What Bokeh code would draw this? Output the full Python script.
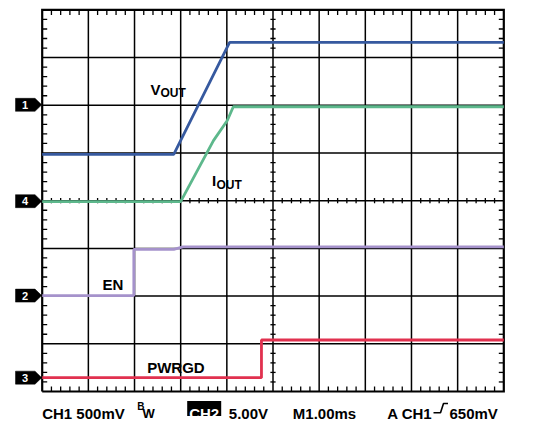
from bokeh.plotting import figure
from bokeh.models import Range1d
from bokeh.core.properties import value
from bokeh.embed import file_html
from bokeh.resources import INLINE

# ---- data: time in ms (M1.00ms -> 1 ms per division), amplitude in screen divisions ----
vout_t = [0.0, 2.85, 4.06, 10.0]
vout_v = [4.97, 4.97, 7.32, 7.32]

iout_t = [0.0, 3.0, 3.71, 4.01, 4.14, 10.0]
iout_v = [3.98, 3.98, 5.26, 5.68, 5.97, 5.97]

en_t = [0.0, 1.985, 1.985, 2.85, 3.05, 10.0]
en_v = [2.01, 2.01, 2.98, 2.98, 3.03, 3.03]

pwrgd_t = [0.0, 4.75, 4.75, 10.0]
pwrgd_v = [0.29, 0.29, 1.08, 1.08]

ch_markers = ["1", "4", "2", "3"]
ch_levels = [6.01, 3.99, 2.01, 0.29]

n_xdiv = 10
n_ydiv = 8

status = ["CH1 500mV", "5.00V", "M1.00ms", "A CH1", "650mV"]

# ---- colours ----
C_VOUT = "#36599f"
C_IOUT = "#5db88c"
C_EN = "#a592cb"
C_PWRGD = "#e1314f"

FONT = value("Liberation Sans")

# pixel helpers (image coordinates -> division units)
XS = 46.16
YS = 47.7
def dx(px):
    return (px - 41.7) / XS
def dy(py):
    return (391.0 - py) / YS

W, H = 543, 421
p = figure(width=W, height=H, output_backend="svg", toolbar_location=None,
           x_range=Range1d(dx(0), dx(W)), y_range=Range1d(dy(H), dy(0)),
           x_axis_type=None, y_axis_type=None, min_border=0,
           outline_line_color=None, background_fill_color="white",
           border_fill_color="white")
p.grid.visible = False

# ---- graticule ----
inner_x = list(range(1, n_xdiv))
inner_y = list(range(1, n_ydiv))
p.segment(x0=inner_x, y0=[0] * len(inner_x), x1=inner_x, y1=[n_ydiv] * len(inner_x),
          line_color="black", line_width=1.5)
p.segment(x0=[0] * len(inner_y), y0=inner_y, x1=[n_xdiv] * len(inner_y), y1=inner_y,
          line_color="black", line_width=1.5)

# minor ticks
tx = [i * 0.2 for i in range(1, n_xdiv * 5) if i % 5]
ty = [i * 0.2 for i in range(1, n_ydiv * 5) if i % 5]
L = 5.0
h = 2.6
segs_x0, segs_y0, segs_x1, segs_y1 = [], [], [], []
for x in tx:
    segs_x0 += [x, x, x]
    segs_y0 += [n_ydiv, 0, n_ydiv / 2 - h / YS]
    segs_x1 += [x, x, x]
    segs_y1 += [n_ydiv - L / YS, L / YS, n_ydiv / 2 + h / YS]
for y in ty:
    segs_x0 += [0, n_xdiv, n_xdiv / 2 - h / XS]
    segs_y0 += [y, y, y]
    segs_x1 += [L / XS, n_xdiv - L / XS, n_xdiv / 2 + h / XS]
    segs_y1 += [y, y, y]
p.segment(x0=segs_x0, y0=segs_y0, x1=segs_x1, y1=segs_y1, line_color="black", line_width=1.3)

# border
p.line(x=[0, n_xdiv, n_xdiv, 0, 0], y=[0, 0, n_ydiv, n_ydiv, 0],
       line_color="black", line_width=2.2, line_join="miter")

# ---- traces ----
for t, v, c in [(vout_t, vout_v, C_VOUT), (iout_t, iout_v, C_IOUT),
                (en_t, en_v, C_EN), (pwrgd_t, pwrgd_v, C_PWRGD)]:
    p.line(x=t, y=v, line_color=c, line_width=2.8)

# ---- channel markers ----
xa, xb, xc = dx(15), dx(34.5), dx(41.2)
hh = 6.5 / YS
p.patches(xs=[[xa, xb, xc, xb, xa] for _ in ch_levels],
          ys=[[lv - hh, lv - hh, lv, lv + hh, lv + hh] for lv in ch_levels],
          fill_color="black", line_color="black", line_width=0.5)
p.text(x=[dx(24.5)] * len(ch_levels), y=ch_levels, text=ch_markers,
       text_color="white", text_font=FONT, text_font_style="bold",
       text_font_size="11px", text_align="center", text_baseline="middle")

# ---- trace labels ----
def lab(x, y, s, size, color="black", align="left"):
    p.text(x=[x], y=[y], text=[s], text_color=color, text_font=FONT,
           text_font_style="bold", text_font_size=size, text_align=align,
           text_baseline="alphabetic")

lab(dx(150), dy(89.3), "V", "15px")
lab(dx(160), dy(92.7), "OUT", "12px")
lab(dx(211.5), dy(180), "I", "15px")
lab(dx(216), dy(184.3), "OUT", "12px")
lab(dx(102), dy(283.5), "EN", "15px")
lab(dx(146.7), dy(367.3), "PWRGD", "15px")

# ---- status line ----
lab(dx(41.7), dy(413), status[0], "15px")
lab(dx(136.7), dy(405.5), "B", "10px")
lab(dx(142), dy(412.5), "W", "13px")
p.quad(left=[dx(186.7)], right=[dx(220.7)], top=[dy(400.5)], bottom=[dy(415.5)],
       fill_color="black", line_color=None)
lab(dx(203.7), dy(413), "CH2", "15px", color="white", align="center")
lab(dx(228.3), dy(413), status[1], "15px")
lab(dx(292.3), dy(413), status[2], "15px")
lab(dx(386.7), dy(413), status[3], "15px")
p.line(x=[dx(433), dx(440), dx(443), dx(447.5)],
       y=[dy(412.3), dy(412.3), dy(403), dy(403)], line_color="black", line_width=1.6)
lab(dx(449), dy(413), status[4], "15px")

open("out.html", "w").write(file_html(p, INLINE))
